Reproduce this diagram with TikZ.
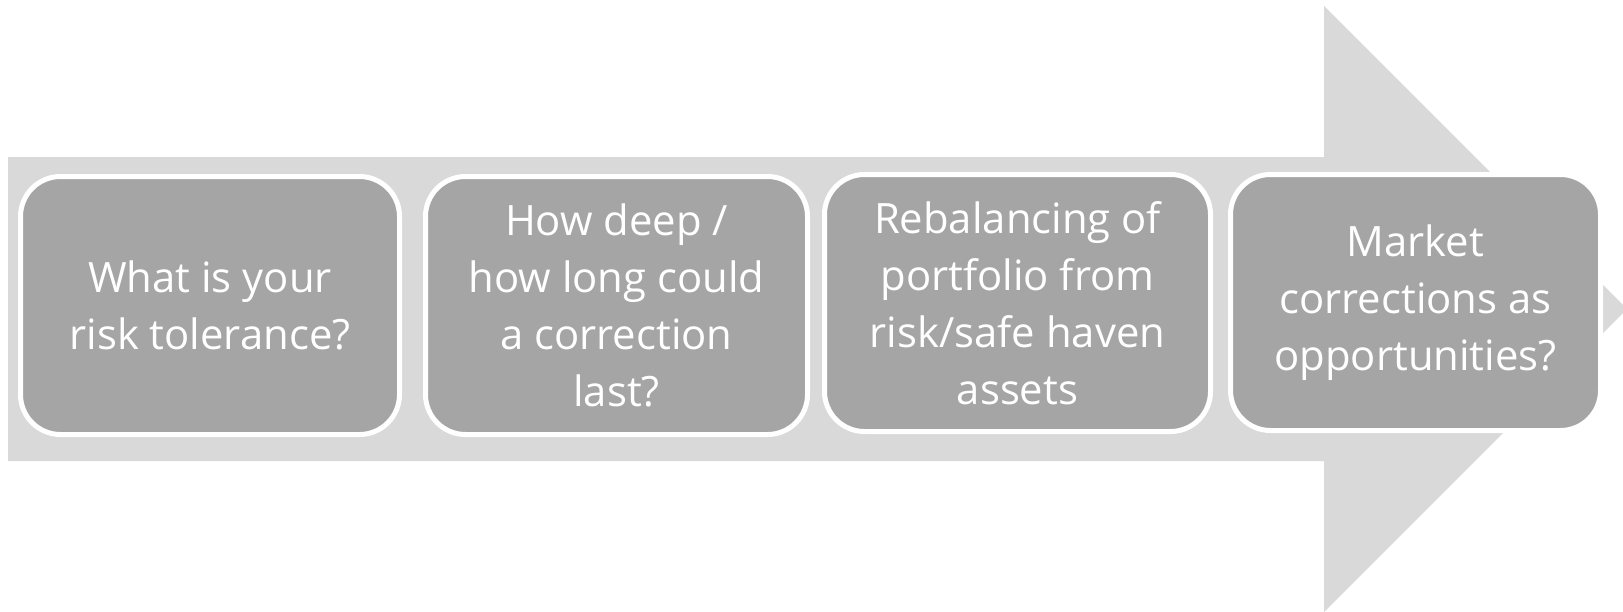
\documentclass[tikz,border=0pt]{standalone}
\usepackage{fontspec}
\setmainfont{Open Sans}[Ligatures=NoCommon]
\definecolor{bodygray}{HTML}{D9D9D9}
\definecolor{cardgray}{HTML}{A5A5A5}
\tikzset{
  card/.style={draw=white, line width=5pt, fill=cardgray, rounded corners=40pt,
    text=white, align=center, inner sep=0pt,
    font=\fontsize{41.8}{57}\selectfont},
}
\begin{document}
\begin{tikzpicture}[x=1pt,y=-1pt]
  \useasboundingbox (0,0) rectangle (1623,611);
  \clip (0,0) rectangle (1623,611);
  % big process arrow behind the cards
  \fill[bodygray] (8,157) -- (1324,157) -- (1324,6) -- (1627,309)
    -- (1324,612) -- (1324,461) -- (8,461) -- cycle;
  % the four steps
  \node[card, minimum width=379pt, minimum height=258pt] (c1) at (210,305.5)
    {What is your\\risk tolerance?};
  \node[card, minimum width=382pt, minimum height=258pt] (c2) at (616.5,305.5)
    {How deep /\\how long could\\a correction\\last?};
  \node[card, minimum width=386pt, minimum height=257pt] (c3) at (1017.5,303)
    {Rebalancing of\\portfolio from\\risk/safe haven\\assets};
  \node[card, minimum width=370pt, minimum height=256pt] (c4) at (1415.5,302.5)
    {Market\\corrections as\\opportunities?};
\end{tikzpicture}
\end{document}
